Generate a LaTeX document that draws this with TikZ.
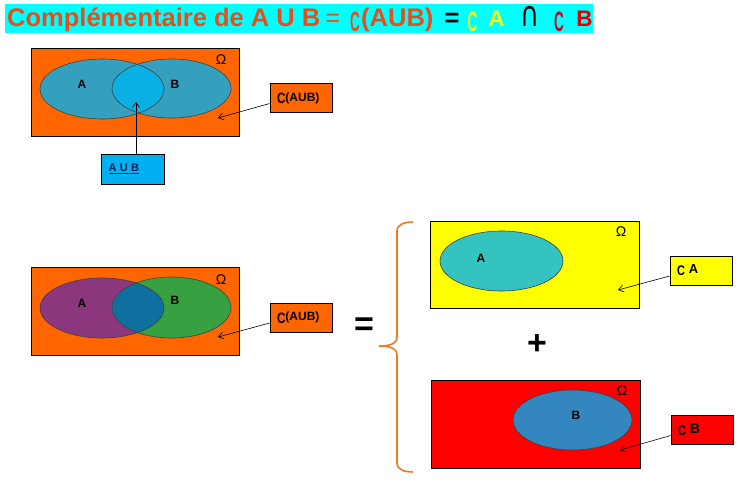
\documentclass[tikz,border=0pt]{standalone}
\usepackage{fontspec}
\setmainfont{Liberation Sans}
\newfontfamily\dejavu{DejaVu Sans}
\usepackage{xcolor}
\usetikzlibrary{shapes.geometric,positioning,calc,arrows.meta}

\definecolor{titlebg}{RGB}{0,255,255}
\definecolor{tred}{RGB}{232,78,28}
\definecolor{tyel}{RGB}{250,250,20}
\definecolor{tdark}{RGB}{195,10,30}
\definecolor{tbred}{RGB}{225,0,0}
\definecolor{orng}{RGB}{255,102,0}
\definecolor{yel}{RGB}{255,255,0}
\definecolor{rd}{RGB}{255,0,0}
\definecolor{blu}{RGB}{0,176,240}
\definecolor{navy}{RGB}{10,30,90}
\definecolor{teal1}{RGB}{52,160,190}
\definecolor{lens1}{RGB}{10,175,228}
\definecolor{purp}{RGB}{140,55,125}
\definecolor{grn}{RGB}{55,160,65}
\definecolor{lens2}{RGB}{15,112,160}
\definecolor{turq}{RGB}{52,195,190}
\definecolor{stblue}{RGB}{52,135,190}
\definecolor{brc}{RGB}{240,120,40}

\newcommand{\cpl}[1]{\scalebox{0.78}[1]{\fontsize{#1}{#1}\selectfont\bfseries C}}
\newcommand{\bigcpl}{\scalebox{0.48}[1]{\fontsize{28}{28}\selectfont\bfseries C}}

\begin{document}
\begin{tikzpicture}[x=1pt,y=-1pt,
    ttl/.style={inner sep=0pt, font=\bfseries\fontsize{25.5}{25.5}\selectfont},
    sml/.style={inner sep=0pt, font=\bfseries\fontsize{22.5}{22.5}\selectfont},
    univ/.style={draw=black, line width=0.8pt, minimum width=208pt, minimum height=88pt, inner sep=0pt},
    tag/.style={draw=black, line width=0.8pt, minimum width=62pt, minimum height=29pt, inner sep=0pt, text width=48pt, align=left},
    lab/.style={font=\bfseries\fontsize{12}{12}\selectfont},
    omg/.style={font=\fontsize{14}{14}\selectfont},
    rim/.style={draw=black!75, line width=0.6pt},
    pt/.style={-{Straight Barb[length=5pt,width=7pt]}, line width=0.6pt},
    big/.style={font=\bfseries\fontsize{34}{34}\selectfont}
]
\useasboundingbox (0,0) rectangle (751,489);

% title
\node[fill=titlebg, minimum width=588pt, minimum height=29pt, inner sep=0pt] (title) at (299,19) {};
\node[ttl, text=tred, anchor=base west] (t1) at (7,27) {Complémentaire de A U B};
\node[ttl, text=tred, anchor=base, font=\fontsize{25}{25}\selectfont] (t2) at (333,27) {=};
\node[ttl, text=tred, anchor=base] (t3) at (355,32) {\bigcpl};
\node[ttl, text=tred, anchor=base west] (t4) at (361,27) {(AUB)};
\node[ttl, anchor=base] (t5) at (452,27) {=};
\node[ttl, text=tyel, anchor=base] (t6) at (472.5,32) {\bigcpl};
\node[sml, text=tyel, anchor=base] (t7) at (496.5,27) {A};
\node[sml, anchor=base] (t8) at (529.5,27) {\dejavu\mdseries\scalebox{1.15}[1.55]{∩}};
\node[ttl, text=tdark, anchor=base] (t9) at (559,32) {\bigcpl};
\node[sml, text=tbred, anchor=base] (t10) at (584.5,27) {B};

% complement of A U B
\node[univ, fill=orng] (U1) at (135,92) {};
\node[omg] (w1) at (221,60) {Ω};
\fill[teal1] (102,89) ellipse [x radius=62, y radius=30];
\fill[teal1] (171.5,88.5) ellipse [x radius=59.5, y radius=29.5];
\begin{scope}
  \clip (102,89) ellipse [x radius=62, y radius=30];
  \fill[lens1] (171.5,88.5) ellipse [x radius=59.5, y radius=29.5];
\end{scope}
\draw[rim] (102,89) ellipse [x radius=62, y radius=30];
\draw[rim] (171.5,88.5) ellipse [x radius=59.5, y radius=29.5];
\node[lab] (a1) at (82,84) {A};
\node[lab] (b1) at (175,84) {B};

\node[tag, fill=orng] (c1) at (301,98) {\cpl{15}\raisebox{2.5pt}{\fontsize{12}{12}\selectfont\bfseries(AUB)}};
\coordinate (p1) at (218,118);
\draw[pt] (c1.190) -- (p1);

\node[tag, fill=blu, minimum width=63pt, minimum height=30pt] (u) at (132.5,169) {\fontsize{11}{11}\selectfont\bfseries\color{navy}\underline{A U B}};
\coordinate (p2) at (136,102);
\draw[pt] (u.north -| p2) -- (p2);

% same with colours
\node[univ, fill=orng] (U2) at (135,311) {};
\node[omg] (w2) at (221,280) {Ω};
\fill[purp] (102,308) ellipse [x radius=62, y radius=30];
\fill[grn] (171.5,307.5) ellipse [x radius=59.5, y radius=30.5];
\begin{scope}
  \clip (102,308) ellipse [x radius=62, y radius=30];
  \fill[lens2] (171.5,307.5) ellipse [x radius=59.5, y radius=30.5];
\end{scope}
\draw[rim] (102,308) ellipse [x radius=62, y radius=30];
\draw[rim] (171.5,307.5) ellipse [x radius=59.5, y radius=30.5];
\node[lab] (a2) at (82,303) {A};
\node[lab] (b2) at (175,300) {B};

\node[tag, fill=orng] (c2) at (301,317.5) {\cpl{15}\raisebox{2.5pt}{\fontsize{12}{12}\selectfont\bfseries(AUB)}};
\coordinate (p3) at (218,337);
\draw[pt] (c2.190) -- (p3);

\node[big] (eq) at (364,327) {=};
\draw[brc, line width=1.6pt] (413,222) to[out=180,in=90] (397,231) -- (397,337)
  to[out=-90,in=0] (379,346) to[out=0,in=90] (397,355) -- (397,463) to[out=-90,in=180] (413,472);

% complement of A
\node[univ, fill=yel, minimum width=209pt, minimum height=87pt] (U3) at (534.5,264.5) {};
\node[omg] (w3) at (621,232) {Ω};
\fill[turq] (501.5,261) ellipse [x radius=61.5, y radius=30];
\draw[rim] (501.5,261) ellipse [x radius=61.5, y radius=30];
\node[lab] (a3) at (481,258) {A};

\node[tag, fill=yel] (c3) at (701,270.5) {\cpl{14}\hspace{4pt}\raisebox{2pt}{\fontsize{13}{13}\selectfont\bfseries A}};
\coordinate (p4) at (618,290);
\draw[pt] (c3.190) -- (p4);

\node[big] (plus) at (537,345) {+};

% complement of B
\node[univ, fill=rd, minimum width=209pt] (U4) at (535.5,424) {};
\node[omg] (w4) at (622,391) {Ω};
\fill[stblue] (572.5,420) ellipse [x radius=59.5, y radius=30];
\draw[rim] (572.5,420) ellipse [x radius=59.5, y radius=30];
\node[lab] (b4) at (576,415) {B};

\node[tag, fill=rd] (c4) at (702,430) {\cpl{14}\hspace{4pt}\raisebox{2pt}{\fontsize{14}{14}\selectfont\bfseries B}};
\coordinate (p5) at (620,450);
\draw[pt] (c4.190) -- (p5);
\end{tikzpicture}
\end{document}
